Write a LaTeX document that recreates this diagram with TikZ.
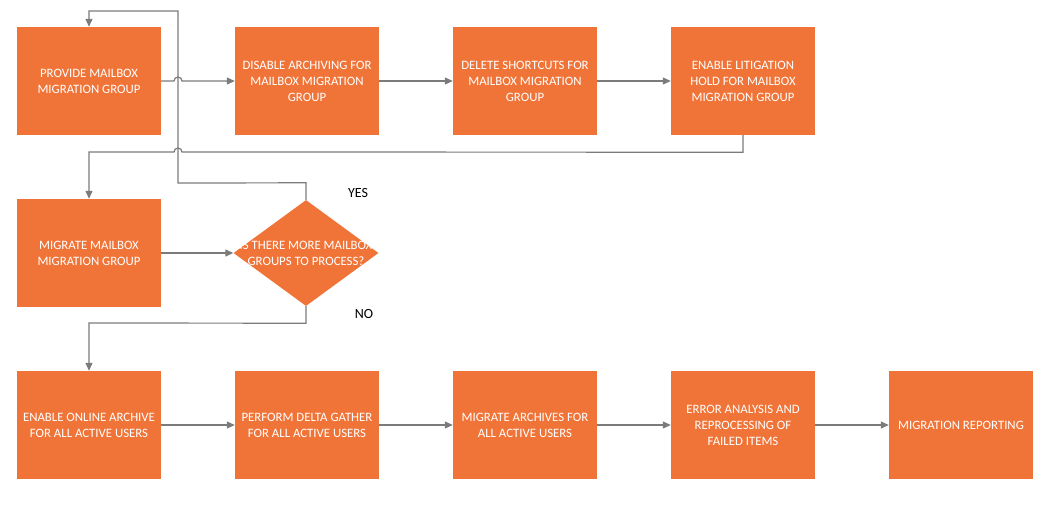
\documentclass[tikz,border=0pt]{standalone}
\usepackage{fontspec}
\setmainfont{Carlito}
\usetikzlibrary{shapes.geometric,arrows.meta}
\definecolor{boxorange}{HTML}{F07438}
\definecolor{linegray}{HTML}{7B7B7B}
\begin{document}
\begin{tikzpicture}[x=1pt,y=-1pt]
\tikzstyle{arrow}=[-{Triangle[length=8pt,width=7pt]}, draw=linegray, line width=1.2pt]
\tikzstyle{box}=[rectangle, fill=boxorange, text=white, minimum width=144pt, minimum height=108pt, inner sep=0pt, align=center, font=\fontsize{12.8}{16}\selectfont]
\tikzstyle{decision}=[diamond, fill=boxorange, minimum width=145pt, minimum height=106pt, inner sep=0pt]
\tikzstyle{answer}=[font=\fontsize{14}{16}\selectfont]
\useasboundingbox (0,0) rectangle (1052,507);
% first row
\draw node[box] (P)  at (89,81)  {PROVIDE MAILBOX\\MIGRATION GROUP};
\draw node[box] (D)  at (307,81) {DISABLE ARCHIVING FOR\\MAILBOX MIGRATION\\GROUP};
\draw node[box] (S)  at (525,81) {DELETE SHORTCUTS FOR\\MAILBOX MIGRATION\\GROUP};
\draw node[box] (L)  at (743,81) {ENABLE LITIGATION\\HOLD FOR MAILBOX\\MIGRATION GROUP};
% second row
\draw node[box] (M)  at (89,253) {MIGRATE MAILBOX\\MIGRATION GROUP};
\draw node[decision] (Q) at (306,253) {};
\draw node[text=white, align=center, font=\fontsize{12.8}{16}\selectfont] (Qt) at (Q) {IS THERE MORE MAILBOX\\GROUPS TO PROCESS?};
\draw node[answer] (yes) at (358,193) {YES};
\draw node[answer] (no)  at (364,314) {NO};
% third row
\draw node[box] (E)  at (89,425)  {ENABLE ONLINE ARCHIVE\\FOR ALL ACTIVE USERS};
\draw node[box] (G)  at (307,425) {PERFORM DELTA GATHER\\FOR ALL ACTIVE USERS};
\draw node[box] (A)  at (525,425) {MIGRATE ARCHIVES FOR\\ALL ACTIVE USERS};
\draw node[box] (R)  at (743,425) {ERROR ANALYSIS AND\\REPROCESSING OF\\FAILED ITEMS};
\draw node[box] (T)  at (961,425) {MIGRATION REPORTING};

\draw[arrow] (P.east) -- (174,81) arc[start angle=180, end angle=0, radius=4pt] -- (D.west);
\draw[arrow] (D) -- (S);
\draw[arrow] (S) -- (L);
\draw[arrow] (L.south) -- ++(0,17) -- (182,152) arc[start angle=0, end angle=180, radius=4pt] -- (M.north |- 0,152) -- (M.north);
\draw[arrow] (M) -- (Q);
\draw[arrow] (Q.north) -- ++(0,-17) -- (178,183) -- (178,11) -- (P.north |- 0,11) -- (P.north);
\draw[arrow] (Q.south) -- ++(0,17) -- (E.north |- 0,323) -- (E.north);
\draw[arrow] (E) -- (G);
\draw[arrow] (G) -- (A);
\draw[arrow] (A) -- (R);
\draw[arrow] (R) -- (T);


\end{tikzpicture}
\end{document}
